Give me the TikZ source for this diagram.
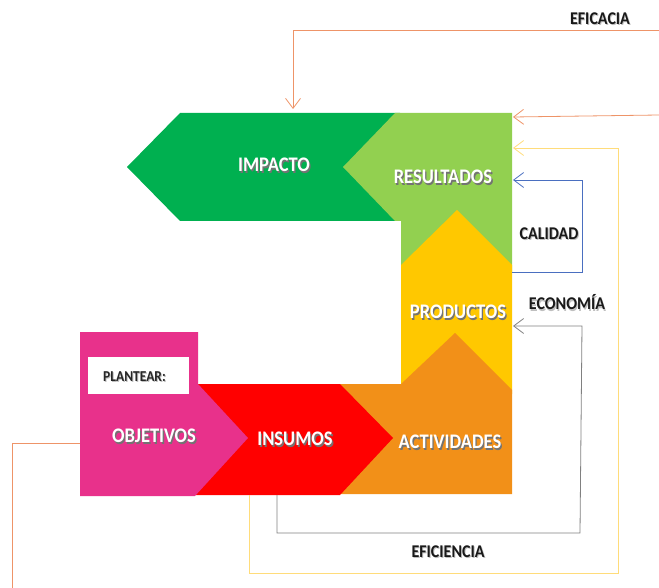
\documentclass[tikz,border=0pt]{standalone}
\usepackage{fontspec}
\usepackage{graphicx}
\setmainfont{Carlito}
\usetikzlibrary{arrows.meta}
\definecolor{dgreen}{HTML}{00B050}
\definecolor{lgreen}{HTML}{92D050}
\definecolor{yel}{HTML}{FFC800}
\definecolor{ora}{HTML}{F29018}
\definecolor{redc}{HTML}{FF0000}
\definecolor{pink}{HTML}{E8318B}
\definecolor{lineor}{HTML}{EE9468}
\definecolor{lineye}{HTML}{FFDC7A}
\definecolor{linebl}{HTML}{4A6FC0}
\definecolor{linegr}{HTML}{808080}
\newcommand{\shw}[1]{\scalebox{1}[1.12]{\leavevmode\rlap{\kern1.3pt\raisebox{-1.3pt}{\textcolor{black!55}{#1}}}#1}}
\newcommand{\shb}[1]{\scalebox{1}[1.12]{\leavevmode\rlap{\kern1pt\raisebox{-1pt}{\textcolor{black!25}{#1}}}#1}}
\begin{document}
\begin{tikzpicture}[x=1pt,y=-1pt,
  lbl/.style={font=\bfseries\fontsize{18.5}{20}\selectfont, text=white, inner sep=0pt},
  side/.style={font=\bfseries\fontsize{16}{18}\selectfont, text=black!90, inner sep=0pt},
  conn/.style={line width=0.8pt, -{Straight Barb[length=10pt,width=15pt]}},
  plain/.style={line width=0.8pt}]
\useasboundingbox (0,0) rectangle (659,588);
% shapes
\fill[dgreen] (127,167) -- (180,113) -- (400,113) -- (400,221) -- (180,221) -- cycle;
\fill[lgreen] (343,167) -- (395,113) -- (512,113) -- (512,272) -- (401,272) -- (401,221) -- (395,221) -- cycle;
\fill[yel] (401,265) -- (457,210) -- (512,265) -- (512,394) -- (401,394) -- cycle;
\fill[ora] (340,384) -- (401,384) -- (455,333) -- (512,390) -- (512,494) -- (340,494) -- cycle;
\fill[redc] (198,384) -- (340,384) -- (393,438) -- (340,495) -- (195,495) -- cycle;
\fill[pink] (80,332) -- (198,332) -- (198,384) -- (248,438) -- (195,496) -- (80,496) -- cycle;
\fill[white] (88,357) rectangle (189,394);
% labels
\node[lbl] (impacto) at (274,166) {\shw{IMPACTO}};
\node[lbl] (resultados) at (443,178) {\shw{RESULTADOS}};
\node[lbl] (productos) at (458,313) {\shw{PRODUCTOS}};
\node[lbl] (actividades) at (450,443) {\shw{ACTIVIDADES}};
\node[lbl] (insumos) at (295,440) {\shw{INSUMOS}};
\node[lbl] (objetivos) at (154,437) {\shw{OBJETIVOS}};
\node[font=\bfseries\fontsize{13.5}{15}\selectfont, text=black!85, inner sep=0pt, anchor=west] (plantear) at (103,377) {\shb{PLANTEAR:}};
\node[side] (eficacia) at (600,19) {\shb{EFICACIA}};
\node[side] (calidad) at (549,234) {\shb{CALIDAD}};
\node[side] (economia) at (567,303) {\shb{ECONOMÍA}};
\node[side] (eficiencia) at (448,552) {\shb{EFICIENCIA}};
% connector end points
\coordinate (efR) at (659,30);
\coordinate (impTop) at (293,109);
\coordinate (or2R) at (659,115);
\coordinate (resA) at (513,117);
\coordinate (resB) at (513,148);
\coordinate (resC) at (513,180);
\coordinate (prodR) at (513,326);
\coordinate (calS) at (512,272);
\coordinate (insB1) at (249,495);
\coordinate (insB2) at (277,495);
\coordinate (objL) at (80,443);
\coordinate (objE) at (12,588);
% connectors
\draw[conn, lineor] (efR) -- (293,30) -- (impTop);
\draw[conn, lineor] (or2R) -- (resA);
\draw[conn, lineye] (insB1) -- (249,573) -- (618,573) -- (618,148) -- (resB);
\draw[conn, linebl] (calS) -- (582,272) -- (582,180) -- (resC);
\draw[conn, linegr] (insB2) -- (277,533) -- (580,533) -- (582,326) -- (prodR);
\draw[plain, lineor] (objL) -- (12,443) -- (objE);
\end{tikzpicture}
\end{document}
